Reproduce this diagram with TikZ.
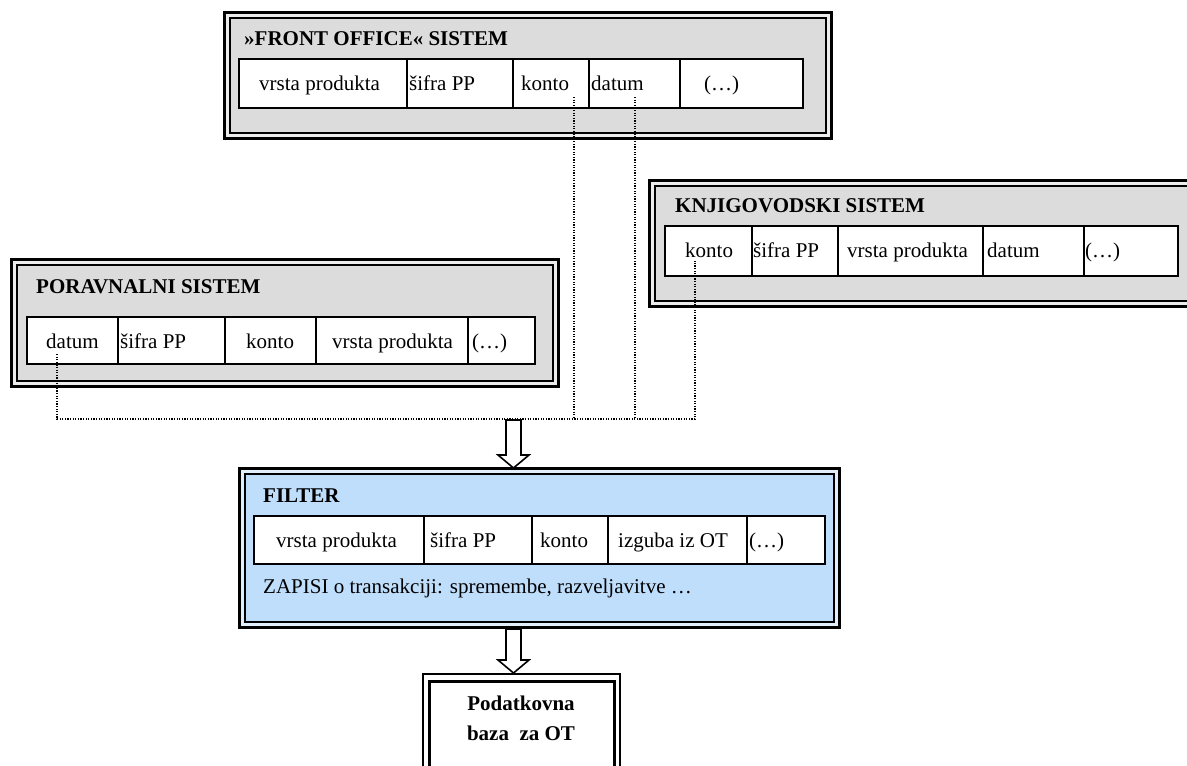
\documentclass[tikz,border=0pt]{standalone}
\usepackage{fontspec}
\setmainfont{Liberation Serif}
\usepackage{xcolor}
\usepackage{tikz}
\usetikzlibrary{calc}

\definecolor{boxgray}{RGB}{220,220,220}
\definecolor{gapgray}{RGB}{236,236,236}
\definecolor{filterblue}{RGB}{191,222,252}
\definecolor{gapblue}{RGB}{225,239,253}
\newcommand{\bodysize}{\fontsize{21}{30}\selectfont}

\tikzset{
	outerline/.style={line width=3pt},
	innerline/.style={line width=1.8pt},
	cellbox/.style={draw, line width=1.5pt, fill=white},
	celltext/.style={anchor=base west, inner sep=0pt},
	titletext/.style={anchor=base west, inner sep=0pt, font=\bodysize\bfseries},
	link/.style={line width=1.3pt, dash pattern=on 1.2pt off 1.4pt},
	hollow/.style={draw, line width=1.6pt, fill=white, line join=miter}
}

\newcommand{\sysframe}[6]{%
	\draw[outerline, fill=#6] (#1,#2) rectangle (#3,#4);
	\draw[innerline, fill=#5] ({#1+5.5},{#2+5.5}) rectangle ({#3-5.5},{#4-5.5});
}
\newcommand{\hollowarrow}[2]{%
	\draw[hollow] ($(#1)+(-7.5,0)$) -- ($(#2)+(-7.5,-13)$) -- ($(#2)+(-15.5,-13)$) -- (#2)
		-- ($(#2)+(15.5,-13)$) -- ($(#2)+(7.5,-13)$) -- ($(#1)+(7.5,0)$) -- cycle;
}

\begin{document}
\begin{tikzpicture}[x=1pt, y=-1pt, font=\bodysize]
			\useasboundingbox (0,0) rectangle (1187,766);
			\clip (0,0) rectangle (1187,766);
			% front office
			\sysframe{224.5}{12.5}{831.5}{138.5}{boxgray}{gapgray}
			\node[titletext] (fo-title) at (244,45) {»FRONT OFFICE« SISTEM};
			\draw[cellbox] (239,59) rectangle (803,108);
			\foreach \x in {407,513,589,680} {
				\draw[line width=1.5pt] (\x,59) -- (\x,108);
			}
			\foreach \x/\lbl/\nm in {259/vrsta produkta/vp, 409/šifra PP/sp, 521/konto/ko, 591/datum/da, 704/(…)/et} {
				\node[celltext] (fo-\nm) at (\x,90) {\lbl};
			}
			% knjigovodski
			\sysframe{649.5}{180.5}{1200}{306.5}{boxgray}{gapgray}
			\node[titletext] (kn-title) at (675,212) {KNJIGOVODSKI SISTEM};
			\draw[cellbox] (665,226) rectangle (1178,276);
			\foreach \x in {752,838,983,1084} {
				\draw[line width=1.5pt] (\x,226) -- (\x,276);
			}
			\foreach \x/\lbl/\nm in {685/konto/ko, 753/šifra PP/sp, 847/vrsta produkta/vp, 987/datum/da, 1085/(…)/et} {
				\node[celltext] (kn-\nm) at (\x,257) {\lbl};
			}
			% poravnalni
			\sysframe{11.5}{259.5}{558.5}{386.5}{boxgray}{gapgray}
			\node[titletext] (po-title) at (36,293) {PORAVNALNI SISTEM};
			\draw[cellbox] (27,317) rectangle (535,364);
			\foreach \x in {118,225,316,468} {
				\draw[line width=1.5pt] (\x,317) -- (\x,364);
			}
			\foreach \x/\lbl/\nm in {46/datum/da, 120/šifra PP/sp, 246/konto/ko, 332/vrsta produkta/vp, 472/(…)/et} {
				\node[celltext] (po-\nm) at (\x,348) {\lbl};
			}
			% filter
			\sysframe{239.5}{468.5}{839.5}{627.5}{filterblue}{gapblue}
			\node[titletext] (fi-title) at (263,502) {FILTER};
			\draw[cellbox] (254,516) rectangle (825,564);
			\foreach \x in {424,532,608,747} {
				\draw[line width=1.5pt] (\x,516) -- (\x,564);
			}
			\foreach \x/\lbl/\nm in {276/vrsta produkta/vp, 430/šifra PP/sp, 540/konto/ko, 618/izguba iz OT/iz, 749/(…)/et} {
				\node[celltext] (fi-\nm) at (\x,547) {\lbl};
			}
			\node[celltext] (fi-rec) at (263,593) {ZAPISI o transakciji: spremembe, razveljavitve …};
			% baza
			\draw[line width=1.8pt] (423,674) rectangle (620,800);
			\draw[line width=3pt] (429,681) rectangle (614,800);
			\node[anchor=base, inner sep=0pt, font=\bodysize\bfseries] (db-1) at (521,710) {Podatkovna};
			\node[anchor=base, inner sep=0pt, font=\bodysize\bfseries] (db-2) at (521,740) {baza\ \ za OT};
			% dotted links
			\coordinate (bus) at (0,419);
			\coordinate (po-d) at (57,354);
			\coordinate (fo-k) at (574,97);
			\coordinate (fo-d) at (635,97);
			\coordinate (kn-k) at (695,261);
			\draw[link] (po-d) |- (kn-k |- bus) -- (kn-k);
			\draw[link] (fo-k) -- (fo-k |- bus);
			\draw[link] (fo-d) -- (fo-d |- bus);
			% arrows
			\coordinate (arr-1) at (513.5,420);
			\coordinate (fi-in) at (513.5,468);
			\coordinate (arr-2) at (513.5,629);
			\coordinate (db-in) at (513.5,673);
			\hollowarrow{arr-1}{fi-in}
			\hollowarrow{arr-2}{db-in}
		\end{tikzpicture}
\end{document}
